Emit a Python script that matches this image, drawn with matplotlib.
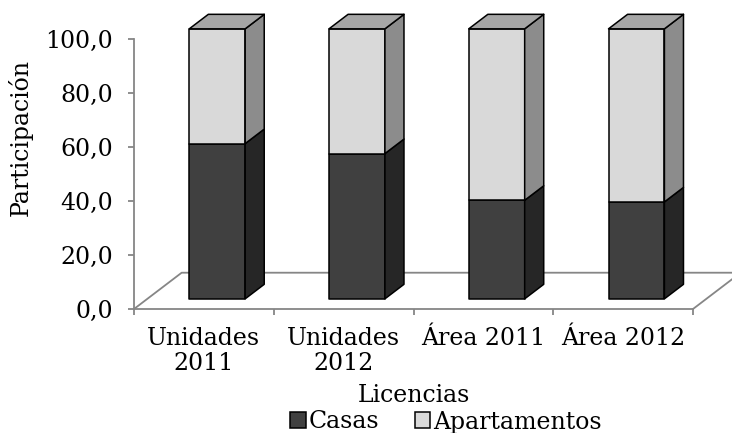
import matplotlib
matplotlib.use('Agg')
import matplotlib.pyplot as plt
from matplotlib.patches import Polygon, Patch

# data
categorias = ['Unidades\n2011', 'Unidades\n2012', 'Área 2011', 'Área 2012']
casas = [57.5, 53.8, 36.5, 35.9]
apartamentos = [42.5, 46.2, 63.5, 64.1]
y_ticks = [0, 20, 40, 60, 80, 100]

# 3D look (oblique projection, in data units)
DEPTH_X = 0.341      # horizontal shift for full floor depth (category units)
DEPTH_Y = 13.44      # vertical shift for full floor depth (value units)
BAR_FRONT = 0.28     # bar front plane as a fraction of floor depth
BAR_BACK = 0.68
BAR_WIDTH = 0.40

C_CASAS = '#404040'
C_CASAS_SIDE = '#262626'
C_APTO = '#d9d9d9'
C_APTO_SIDE = '#8c8c8c'
C_APTO_TOP = '#a6a6a6'
AXIS_COLOR = '#868686'

plt.rcParams['font.family'] = 'DejaVu Serif'
plt.rcParams['font.size'] = 17

fig = plt.figure(figsize=(7.32, 4.33), dpi=100)
ax = fig.add_axes([134 / 732, 1 - 309 / 433, 559 / 732, 270 / 433])
ax.set_xlim(0, len(categorias))
ax.set_ylim(0, 100)


def shift(x, y, d):
    return (x + d * DEPTH_X, y + d * DEPTH_Y)


def face(points, color, z=3):
    ax.add_patch(Polygon(points, closed=True, facecolor=color, edgecolor='black',
                         linewidth=1.1, joinstyle='round', clip_on=False, zorder=z))


# floor outline (no back wall)
n = len(categorias)
fx0, fy0 = shift(0, 0, 1)
fx1, fy1 = shift(n, 0, 1)
ax.plot([0, fx0, fx1, n], [0, fy0, fy1, 0], color=AXIS_COLOR, linewidth=1.3,
        clip_on=False, zorder=1)

for i in range(n):
    x0 = i + 0.5 - BAR_WIDTH / 2
    x1 = i + 0.5 + BAR_WIDTH / 2
    bottom = 0
    segs = [(casas[i], C_CASAS, C_CASAS_SIDE, None),
            (apartamentos[i], C_APTO, C_APTO_SIDE, C_APTO_TOP)]
    for val, front_c, side_c, top_c in segs:
        top = bottom + val
        # front face
        face([shift(x0, bottom, BAR_FRONT), shift(x1, bottom, BAR_FRONT),
              shift(x1, top, BAR_FRONT), shift(x0, top, BAR_FRONT)], front_c)
        # side face
        face([shift(x1, bottom, BAR_FRONT), shift(x1, bottom, BAR_BACK),
              shift(x1, top, BAR_BACK), shift(x1, top, BAR_FRONT)], side_c)
        if top_c is not None:
            face([shift(x0, top, BAR_FRONT), shift(x1, top, BAR_FRONT),
                  shift(x1, top, BAR_BACK), shift(x0, top, BAR_BACK)], top_c)
        bottom = top

# axes styling
for s in ['top', 'right']:
    ax.spines[s].set_visible(False)
for s in ['left', 'bottom']:
    ax.spines[s].set_color(AXIS_COLOR)
    ax.spines[s].set_linewidth(1.3)
    ax.spines[s].set_zorder(2)

ax.set_yticks(y_ticks)
ax.set_yticklabels([f'{v:.1f}'.replace('.', ',') for v in y_ticks])
ax.tick_params(axis='y', length=4.3, width=1.3, color=AXIS_COLOR, pad=11)

ax.set_xticks(range(n + 1))
ax.set_xticklabels([])
ax.set_xticks([i + 0.5 for i in range(n)], minor=True)
ax.set_xticklabels(categorias, minor=True, linespacing=1.1)
ax.tick_params(axis='x', which='major', length=4.3, width=1.3, color=AXIS_COLOR)
ax.tick_params(axis='x', which='minor', length=0, pad=13)

ax.set_xlabel('Licencias', va='center')
ax.xaxis.set_label_coords(0.5, (309 - 395) / 270)
fig.text(20 / 732, 1 - 137 / 433, 'Participación', rotation=90,
         ha='center', va='center')

handles = [Patch(facecolor=C_CASAS, edgecolor='black', linewidth=1.1),
           Patch(facecolor=C_APTO, edgecolor='black', linewidth=1.1)]
fig.legend(handles, ['Casas', 'Apartamentos'], loc='center',
           bbox_to_anchor=(446 / 732, 1 - 422 / 433), ncol=2, frameon=False,
           handlelength=0.65, handleheight=0.65, handletextpad=0.12,
           columnspacing=1.5, borderpad=0)

fig.savefig('out.png', dpi=100)
